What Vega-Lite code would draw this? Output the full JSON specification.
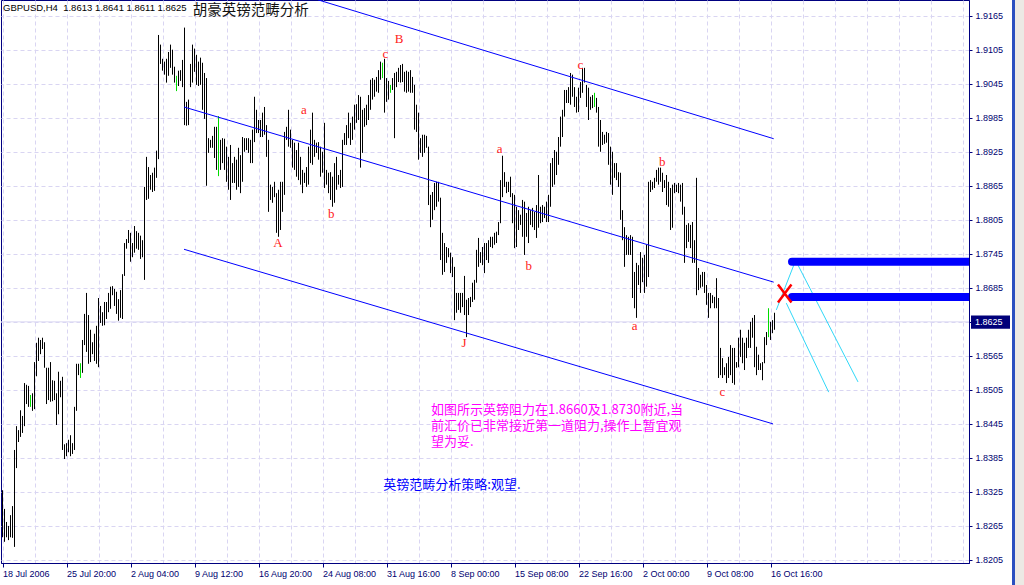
{
  "$schema": "https://vega.github.io/schema/vega-lite/v6.json",
  "width": 968,
  "height": 563,
  "autosize": {"type": "none"},
  "padding": {"left": 1, "top": 0, "right": 55, "bottom": 22},
  "background": "#ffffff",
  "config": {
    "view": {"stroke": "#000080", "strokeWidth": 1},
    "axis": {
      "labelFont": "Liberation Sans",
      "labelFontSize": 9,
      "labelColor": "#000070",
      "domainColor": "#000080",
      "tickColor": "#000080",
      "gridColor": "#d9d5f2",
      "gridDash": [4, 3],
      "gridWidth": 1,
      "title": null
    }
  },
  "datasets": {
    "bars": [
      {"i":0,"p":1.8245,"p2":1.8328},{"i":1,"p":1.8237,"p2":1.8295},{"i":2,"p":1.8245,"p2":1.8272},{"i":3,"p":1.8240,"p2":1.8265},{"i":4,"p":1.8245,"p2":1.8284},
      {"i":5,"p":1.8244,"p2":1.8300},{"i":6,"p":1.8228,"p2":1.8399},{"i":7,"p":1.8367,"p2":1.8441},{"i":8,"p":1.8413,"p2":1.8434},{"i":9,"p":1.8422,"p2":1.8469},
      {"i":10,"p":1.8429,"p2":1.8459},{"i":11,"p":1.8441,"p2":1.8517},{"i":12,"p":1.8480,"p2":1.8514},{"i":13,"p":1.8475,"p2":1.8512},{"i":14,"p":1.8475,"p2":1.8496,"g":1},
      {"i":15,"p":1.8468,"p2":1.8499},{"i":16,"p":1.8471,"p2":1.8554},{"i":17,"p":1.8529,"p2":1.8588},{"i":18,"p":1.8556,"p2":1.8597},{"i":19,"p":1.8568,"p2":1.8593},
      {"i":20,"p":1.8577,"p2":1.8597},{"i":21,"p":1.8544,"p2":1.8589},{"i":22,"p":1.8480,"p2":1.8544},{"i":23,"p":1.8487,"p2":1.8544},{"i":24,"p":1.8484,"p2":1.8554},
      {"i":25,"p":1.8485,"p2":1.8522},{"i":26,"p":1.8487,"p2":1.8521},{"i":27,"p":1.8443,"p2":1.8499},{"i":28,"p":1.8462,"p2":1.8537},{"i":29,"p":1.8492,"p2":1.8521},
      {"i":30,"p":1.8399,"p2":1.8528},{"i":31,"p":1.8383,"p2":1.8409},{"i":32,"p":1.8388,"p2":1.8411},{"i":33,"p":1.8395,"p2":1.8417},{"i":34,"p":1.8388,"p2":1.8425},
      {"i":35,"p":1.8392,"p2":1.8411},{"i":36,"p":1.8399,"p2":1.8475},{"i":37,"p":1.8468,"p2":1.8551},{"i":38,"p":1.8531,"p2":1.8551},{"i":39,"p":1.8526,"p2":1.8552,"g":1},
      {"i":40,"p":1.8535,"p2":1.8593},{"i":41,"p":1.8584,"p2":1.8639},{"i":42,"p":1.8572,"p2":1.8676},{"i":43,"p":1.8551,"p2":1.8637},{"i":44,"p":1.8554,"p2":1.8611},
      {"i":45,"p":1.8568,"p2":1.8589},{"i":46,"p":1.8556,"p2":1.8604},{"i":47,"p":1.8551,"p2":1.8618},{"i":48,"p":1.8545,"p2":1.8667},{"i":49,"p":1.8623,"p2":1.8653},
      {"i":50,"p":1.8618,"p2":1.8642},{"i":51,"p":1.8619,"p2":1.8660},{"i":52,"p":1.8630,"p2":1.8660},{"i":53,"p":1.8642,"p2":1.8676},{"i":54,"p":1.8648,"p2":1.8687},
      {"i":55,"p":1.8672,"p2":1.8688},{"i":56,"p":1.8653,"p2":1.8683},{"i":57,"p":1.8639,"p2":1.8678},{"i":58,"p":1.8627,"p2":1.8665},{"i":59,"p":1.8632,"p2":1.8681},
      {"i":60,"p":1.8630,"p2":1.8709},{"i":61,"p":1.8706,"p2":1.8764},{"i":62,"p":1.8754,"p2":1.8771},{"i":63,"p":1.8764,"p2":1.8787},{"i":64,"p":1.8731,"p2":1.8782},
      {"i":65,"p":1.8739,"p2":1.8764},{"i":66,"p":1.8747,"p2":1.8794},{"i":67,"p":1.8754,"p2":1.8785},{"i":68,"p":1.8752,"p2":1.8782},{"i":69,"p":1.8736,"p2":1.8777},
      {"i":70,"p":1.8739,"p2":1.8769},{"i":71,"p":1.8699,"p2":1.8863},{"i":72,"p":1.8840,"p2":1.8916},{"i":73,"p":1.8842,"p2":1.8898},{"i":74,"p":1.8858,"p2":1.8884},
      {"i":75,"p":1.8854,"p2":1.8888},{"i":76,"p":1.8856,"p2":1.8897},{"i":77,"p":1.8879,"p2":1.8927},{"i":78,"p":1.8912,"p2":1.9131},{"i":79,"p":1.9080,"p2":1.9114},
      {"i":80,"p":1.9068,"p2":1.9089},{"i":81,"p":1.9061,"p2":1.9084},{"i":82,"p":1.9047,"p2":1.9089},{"i":83,"p":1.9059,"p2":1.9101},{"i":84,"p":1.9073,"p2":1.9114},
      {"i":85,"p":1.9061,"p2":1.9105},{"i":86,"p":1.9047,"p2":1.9075},{"i":87,"p":1.9032,"p2":1.9059,"g":1},{"i":88,"p":1.9041,"p2":1.9068},{"i":89,"p":1.9050,"p2":1.9069},
      {"i":90,"p":1.9039,"p2":1.9087},{"i":91,"p":1.8972,"p2":1.9144},{"i":92,"p":1.8971,"p2":1.9013},{"i":93,"p":1.8972,"p2":1.9017},{"i":94,"p":1.9039,"p2":1.9080},
      {"i":95,"p":1.9047,"p2":1.9114},{"i":96,"p":1.9066,"p2":1.9107},{"i":97,"p":1.9043,"p2":1.9096},{"i":98,"p":1.9041,"p2":1.9084},{"i":99,"p":1.9043,"p2":1.9091},
      {"i":100,"p":1.8999,"p2":1.9082},{"i":101,"p":1.8983,"p2":1.9064},{"i":102,"p":1.8865,"p2":1.9055},{"i":103,"p":1.8923,"p2":1.8949},{"i":104,"p":1.8932,"p2":1.8946},
      {"i":105,"p":1.8932,"p2":1.8953},{"i":106,"p":1.8914,"p2":1.8969},{"i":107,"p":1.8893,"p2":1.8969},{"i":108,"p":1.8882,"p2":1.8988,"g":1},{"i":109,"p":1.8893,"p2":1.8946},
      {"i":110,"p":1.8905,"p2":1.8949},{"i":111,"p":1.8893,"p2":1.8948},{"i":112,"p":1.8872,"p2":1.8934},{"i":113,"p":1.8858,"p2":1.8916},{"i":114,"p":1.8840,"p2":1.8937},
      {"i":115,"p":1.8870,"p2":1.8905},{"i":116,"p":1.8870,"p2":1.8916},{"i":117,"p":1.8858,"p2":1.8911},{"i":118,"p":1.8863,"p2":1.8932},{"i":119,"p":1.8852,"p2":1.8919},
      {"i":120,"p":1.8872,"p2":1.8951},{"i":121,"p":1.8925,"p2":1.8949},{"i":122,"p":1.8928,"p2":1.8949},{"i":123,"p":1.8923,"p2":1.8949},{"i":124,"p":1.8905,"p2":1.8946},
      {"i":125,"p":1.8905,"p2":1.8964},{"i":126,"p":1.8942,"p2":1.9022},{"i":127,"p":1.8958,"p2":1.8999},{"i":128,"p":1.8958,"p2":1.8981},{"i":129,"p":1.8951,"p2":1.8981},
      {"i":130,"p":1.8951,"p2":1.8994},{"i":131,"p":1.8955,"p2":1.9004},{"i":132,"p":1.8916,"p2":1.8972},{"i":133,"p":1.8819,"p2":1.8946},{"i":134,"p":1.8840,"p2":1.8867},
      {"i":135,"p":1.8835,"p2":1.8863},{"i":136,"p":1.8845,"p2":1.8872},{"i":137,"p":1.8782,"p2":1.8852},{"i":138,"p":1.8775,"p2":1.8858},{"i":139,"p":1.8787,"p2":1.8872},
      {"i":140,"p":1.8819,"p2":1.8872},{"i":141,"p":1.8849,"p2":1.8960},{"i":142,"p":1.8946,"p2":1.8969},{"i":143,"p":1.8934,"p2":1.8999},{"i":144,"p":1.8932,"p2":1.8964},
      {"i":145,"p":1.8897,"p2":1.8946},{"i":146,"p":1.8893,"p2":1.8941},{"i":147,"p":1.8881,"p2":1.8928},{"i":148,"p":1.8875,"p2":1.8941},{"i":149,"p":1.8867,"p2":1.8916},
      {"i":150,"p":1.8852,"p2":1.8893},{"i":151,"p":1.8870,"p2":1.8888},{"i":152,"p":1.8863,"p2":1.8898},{"i":153,"p":1.8867,"p2":1.8934},{"i":154,"p":1.8905,"p2":1.8964},
      {"i":155,"p":1.8902,"p2":1.8994},{"i":156,"p":1.8916,"p2":1.8946},{"i":157,"p":1.8923,"p2":1.8941},{"i":158,"p":1.8911,"p2":1.8942},{"i":159,"p":1.8881,"p2":1.8934},
      {"i":160,"p":1.8888,"p2":1.8925},{"i":161,"p":1.8861,"p2":1.8976},{"i":162,"p":1.8867,"p2":1.8893},{"i":163,"p":1.8852,"p2":1.8888},{"i":164,"p":1.8840,"p2":1.8889},
      {"i":165,"p":1.8828,"p2":1.8881},{"i":166,"p":1.8835,"p2":1.8905},{"i":167,"p":1.8858,"p2":1.8916},{"i":168,"p":1.8867,"p2":1.8884},{"i":169,"p":1.8861,"p2":1.8893},
      {"i":170,"p":1.8863,"p2":1.8946},{"i":171,"p":1.8937,"p2":1.8958},{"i":172,"p":1.8937,"p2":1.8972},{"i":173,"p":1.8949,"p2":1.8994},{"i":174,"p":1.8937,"p2":1.8976},
      {"i":175,"p":1.8946,"p2":1.8987},{"i":176,"p":1.8964,"p2":1.9008},{"i":177,"p":1.8976,"p2":1.9009},{"i":178,"p":1.8981,"p2":1.9025},{"i":179,"p":1.8897,"p2":1.9022},
      {"i":180,"p":1.8923,"p2":1.8999},{"i":181,"p":1.8969,"p2":1.9002},{"i":182,"p":1.8972,"p2":1.9008},{"i":183,"p":1.8981,"p2":1.9025},{"i":184,"p":1.8999,"p2":1.9052},
      {"i":185,"p":1.9017,"p2":1.9055},{"i":186,"p":1.9022,"p2":1.9052},{"i":187,"p":1.9031,"p2":1.9057},{"i":188,"p":1.9029,"p2":1.9069},{"i":189,"p":1.9052,"p2":1.9084},
      {"i":190,"p":1.9055,"p2":1.9082,"g":1},{"i":191,"p":1.8994,"p2":1.9089},{"i":192,"p":1.9013,"p2":1.9055},{"i":193,"p":1.9017,"p2":1.9050},{"i":194,"p":1.9029,"p2":1.9043,"g":1},
      {"i":195,"p":1.9034,"p2":1.9055},{"i":196,"p":1.8949,"p2":1.9064},{"i":197,"p":1.9039,"p2":1.9066},{"i":198,"p":1.9048,"p2":1.9073},{"i":199,"p":1.9047,"p2":1.9078},
      {"i":200,"p":1.9048,"p2":1.9080},{"i":201,"p":1.9031,"p2":1.9066},{"i":202,"p":1.9029,"p2":1.9068},{"i":203,"p":1.9031,"p2":1.9066},{"i":204,"p":1.9029,"p2":1.9069},
      {"i":205,"p":1.9029,"p2":1.9057},{"i":206,"p":1.8964,"p2":1.9043},{"i":207,"p":1.8960,"p2":1.9008},{"i":208,"p":1.8911,"p2":1.8994},{"i":209,"p":1.8923,"p2":1.8949},
      {"i":210,"p":1.8916,"p2":1.8955},{"i":211,"p":1.8923,"p2":1.8955},{"i":212,"p":1.8932,"p2":1.8953},{"i":213,"p":1.8831,"p2":1.8934},{"i":214,"p":1.8792,"p2":1.8849},
      {"i":215,"p":1.8805,"p2":1.8854},{"i":216,"p":1.8822,"p2":1.8870},{"i":217,"p":1.8828,"p2":1.8872},{"i":218,"p":1.8837,"p2":1.8872},{"i":219,"p":1.8734,"p2":1.8844},
      {"i":220,"p":1.8708,"p2":1.8782},{"i":221,"p":1.8713,"p2":1.8764},{"i":222,"p":1.8729,"p2":1.8757},{"i":223,"p":1.8739,"p2":1.8755},{"i":224,"p":1.8711,"p2":1.8747},
      {"i":225,"p":1.8704,"p2":1.8739},{"i":226,"p":1.8628,"p2":1.8722},{"i":227,"p":1.8641,"p2":1.8676},{"i":228,"p":1.8646,"p2":1.8676},{"i":229,"p":1.8641,"p2":1.8676},
      {"i":230,"p":1.8651,"p2":1.8676},{"i":231,"p":1.8637,"p2":1.8706},{"i":232,"p":1.8598,"p2":1.8664},{"i":233,"p":1.8637,"p2":1.8667},{"i":234,"p":1.8651,"p2":1.8669},
      {"i":235,"p":1.8660,"p2":1.8694},{"i":236,"p":1.8664,"p2":1.8699},{"i":237,"p":1.8694,"p2":1.8752},{"i":238,"p":1.8722,"p2":1.8773},{"i":239,"p":1.8729,"p2":1.8748},
      {"i":240,"p":1.8725,"p2":1.8757},{"i":241,"p":1.8711,"p2":1.8764},{"i":242,"p":1.8734,"p2":1.8764},{"i":243,"p":1.8729,"p2":1.8769},{"i":244,"p":1.8757,"p2":1.8775},
      {"i":245,"p":1.8755,"p2":1.8775},{"i":246,"p":1.8761,"p2":1.8782},{"i":247,"p":1.8764,"p2":1.8784},{"i":248,"p":1.8778,"p2":1.8801},{"i":249,"p":1.8799,"p2":1.8875},
      {"i":250,"p":1.8845,"p2":1.8918},{"i":251,"p":1.8863,"p2":1.8889},{"i":252,"p":1.8852,"p2":1.8872},{"i":253,"p":1.8854,"p2":1.8872},{"i":254,"p":1.8845,"p2":1.8881},
      {"i":255,"p":1.8799,"p2":1.8852},{"i":256,"p":1.8755,"p2":1.8849},{"i":257,"p":1.8757,"p2":1.8828},{"i":258,"p":1.8787,"p2":1.8822},{"i":259,"p":1.8796,"p2":1.8814},
      {"i":260,"p":1.8775,"p2":1.8840},{"i":261,"p":1.8743,"p2":1.8837},{"i":262,"p":1.8775,"p2":1.8817},{"i":263,"p":1.8764,"p2":1.8828},{"i":264,"p":1.8796,"p2":1.8822},
      {"i":265,"p":1.8792,"p2":1.8826},{"i":266,"p":1.8787,"p2":1.8819},{"i":267,"p":1.8773,"p2":1.8831},{"i":268,"p":1.8791,"p2":1.8884},{"i":269,"p":1.8799,"p2":1.8828},
      {"i":270,"p":1.8801,"p2":1.8831},{"i":271,"p":1.8808,"p2":1.8828},{"i":272,"p":1.8801,"p2":1.8837},{"i":273,"p":1.8801,"p2":1.8849},{"i":274,"p":1.8828,"p2":1.8905},
      {"i":275,"p":1.8863,"p2":1.8914},{"i":276,"p":1.8867,"p2":1.8928},{"i":277,"p":1.8884,"p2":1.8925},{"i":278,"p":1.8902,"p2":1.8951},{"i":279,"p":1.8934,"p2":1.8987},
      {"i":280,"p":1.8951,"p2":1.8999},{"i":281,"p":1.8987,"p2":1.9034},{"i":282,"p":1.9011,"p2":1.9034},{"i":283,"p":1.9011,"p2":1.9039},{"i":284,"p":1.9008,"p2":1.9064},
      {"i":285,"p":1.9022,"p2":1.9061},{"i":286,"p":1.9004,"p2":1.9039},{"i":287,"p":1.8994,"p2":1.9022},{"i":288,"p":1.8995,"p2":1.9038},{"i":289,"p":1.9020,"p2":1.9048},
      {"i":290,"p":1.9029,"p2":1.9073},{"i":291,"p":1.9047,"p2":1.9073},{"i":292,"p":1.9004,"p2":1.9043},{"i":293,"p":1.8981,"p2":1.9038},{"i":294,"p":1.8999,"p2":1.9022},
      {"i":295,"p":1.9002,"p2":1.9025},{"i":296,"p":1.9004,"p2":1.9029,"g":1},{"i":297,"p":1.8994,"p2":1.9020},{"i":298,"p":1.8934,"p2":1.9004},{"i":299,"p":1.8925,"p2":1.8981},
      {"i":300,"p":1.8937,"p2":1.8960},{"i":301,"p":1.8939,"p2":1.8955},{"i":302,"p":1.8941,"p2":1.8960},{"i":303,"p":1.8902,"p2":1.8958},{"i":304,"p":1.8867,"p2":1.8934},
      {"i":305,"p":1.8849,"p2":1.8925},{"i":306,"p":1.8879,"p2":1.8905},{"i":307,"p":1.8875,"p2":1.8905},{"i":308,"p":1.8863,"p2":1.8889},{"i":309,"p":1.8805,"p2":1.8888},
      {"i":310,"p":1.8769,"p2":1.8822},{"i":311,"p":1.8722,"p2":1.8792},{"i":312,"p":1.8743,"p2":1.8778},{"i":313,"p":1.8743,"p2":1.8775},{"i":314,"p":1.8743,"p2":1.8778},
      {"i":315,"p":1.8667,"p2":1.8775},{"i":316,"p":1.8649,"p2":1.8713},{"i":317,"p":1.8632,"p2":1.8729},{"i":318,"p":1.8690,"p2":1.8725},{"i":319,"p":1.8676,"p2":1.8748},
      {"i":320,"p":1.8695,"p2":1.8738},{"i":321,"p":1.8676,"p2":1.8743},{"i":322,"p":1.8687,"p2":1.8761},{"i":323,"p":1.8704,"p2":1.8872},{"i":324,"p":1.8854,"p2":1.8875},
      {"i":325,"p":1.8858,"p2":1.8872},{"i":326,"p":1.8861,"p2":1.8879},{"i":327,"p":1.8872,"p2":1.8893},{"i":328,"p":1.8867,"p2":1.8897},{"i":329,"p":1.8872,"p2":1.8897},
      {"i":330,"p":1.8854,"p2":1.8888},{"i":331,"p":1.8861,"p2":1.8875},{"i":332,"p":1.8831,"p2":1.8884},{"i":333,"p":1.8828,"p2":1.8872},{"i":334,"p":1.8787,"p2":1.8861},
      {"i":335,"p":1.8791,"p2":1.8867},{"i":336,"p":1.8852,"p2":1.8870},{"i":337,"p":1.8854,"p2":1.8867},{"i":338,"p":1.8852,"p2":1.8870},{"i":339,"p":1.8837,"p2":1.8867},
      {"i":340,"p":1.8814,"p2":1.8870},{"i":341,"p":1.8729,"p2":1.8828},{"i":342,"p":1.8755,"p2":1.8796},{"i":343,"p":1.8766,"p2":1.8799},{"i":344,"p":1.8755,"p2":1.8796},
      {"i":345,"p":1.8729,"p2":1.8801},{"i":346,"p":1.8729,"p2":1.8769},{"i":347,"p":1.8672,"p2":1.8879},{"i":348,"p":1.8681,"p2":1.8720},{"i":349,"p":1.8685,"p2":1.8708},
      {"i":350,"p":1.8687,"p2":1.8713},{"i":351,"p":1.8676,"p2":1.8713},{"i":352,"p":1.8655,"p2":1.8690},{"i":353,"p":1.8632,"p2":1.8676},{"i":354,"p":1.8649,"p2":1.8676},
      {"i":355,"p":1.8658,"p2":1.8672},{"i":356,"p":1.8649,"p2":1.8669},{"i":357,"p":1.8649,"p2":1.8702},{"i":358,"p":1.8526,"p2":1.8667},{"i":359,"p":1.8531,"p2":1.8579},
      {"i":360,"p":1.8526,"p2":1.8561},{"i":361,"p":1.8531,"p2":1.8545},{"i":362,"p":1.8517,"p2":1.8552},{"i":363,"p":1.8526,"p2":1.8563},{"i":364,"p":1.8531,"p2":1.8584},
      {"i":365,"p":1.8517,"p2":1.8579},{"i":366,"p":1.8514,"p2":1.8579},{"i":367,"p":1.8544,"p2":1.8554},{"i":368,"p":1.8545,"p2":1.8597},{"i":369,"p":1.8563,"p2":1.8611},
      {"i":370,"p":1.8552,"p2":1.8597},{"i":371,"p":1.8540,"p2":1.8588},{"i":372,"p":1.8561,"p2":1.8597},{"i":373,"p":1.8579,"p2":1.8611},{"i":374,"p":1.8579,"p2":1.8625},
      {"i":375,"p":1.8597,"p2":1.8632},{"i":376,"p":1.8545,"p2":1.8637},{"i":377,"p":1.8531,"p2":1.8581},{"i":378,"p":1.8540,"p2":1.8567},{"i":379,"p":1.8540,"p2":1.8552},
      {"i":380,"p":1.8522,"p2":1.8554},{"i":381,"p":1.8552,"p2":1.8598},{"i":382,"p":1.8584,"p2":1.8607},{"i":383,"p":1.8598,"p2":1.8649,"g":1},{"i":384,"p":1.8593,"p2":1.8625},
      {"i":385,"p":1.8605,"p2":1.8628},{"i":386,"p":1.8611,"p2":1.8641}
    ],
    "bid": [{"i": -0.75, "i2": 483.25, "p": 1.8625}],
    "channel": [
      {"line": "upper", "i": 157.75, "p": 1.9193},
      {"line": "upper", "i": 385.6, "p": 1.8948},
      {"line": "middle", "i": 90.75, "p": 1.9004},
      {"line": "middle", "i": 385.6, "p": 1.8695},
      {"line": "lower", "i": 90.75, "p": 1.8753},
      {"line": "lower", "i": 385.25, "p": 1.8445}
    ],
    "projection": [
      {"line": "rise", "i": 386.9, "p": 1.8646},
      {"line": "rise", "i": 395.75, "p": 1.8726},
      {"line": "fall1", "i": 397.75, "p": 1.8725},
      {"line": "fall1", "i": 427.75, "p": 1.8519},
      {"line": "fall2", "i": 391.9, "p": 1.8658},
      {"line": "fall2", "i": 413.1, "p": 1.8501}
    ],
    "levels": [
      {"i": 394.75, "i2": 486, "p": 1.8731},
      {"i": 394.75, "i2": 486, "p": 1.8669}
    ],
    "cross": [{"i": 391.1, "p": 1.8675}],
    "waves": [
      {"t": "A", "i": 137.75, "p": 1.8764},
      {"t": "a", "i": 150.75, "p": 1.8999},
      {"t": "b", "i": 164.4, "p": 1.8816},
      {"t": "c", "i": 191.4, "p": 1.9097},
      {"t": "B", "i": 198.25, "p": 1.9124},
      {"t": "J", "i": 230.75, "p": 1.8587},
      {"t": "a", "i": 248.6, "p": 1.8930},
      {"t": "b", "i": 263.1, "p": 1.8723},
      {"t": "c", "i": 288.9, "p": 1.9078},
      {"t": "a", "i": 316.1, "p": 1.8618},
      {"t": "b", "i": 329.9, "p": 1.8907},
      {"t": "c", "i": 359.9, "p": 1.8502}
    ],
    "note": [
      {"t": "如图所示英镑阻力在1.8660及1.8730附近,当\n前汇价已非常接近第一道阻力,操作上暂宜观\n望为妥.", "i": 214.25, "p": 1.8480}
    ],
    "strategy": [{"t": "英镑范畴分析策略:观望.", "i": 190.4, "p": 1.8337}],
    "quote": [{"t": "GBPUSD,H4\u00a0 1.8613 1.8641 1.8611 1.8625", "i": 0.25, "p": 1.9179}],
    "heading": [{"t": "胡豪英镑范畴分析", "i": 95.1, "p": 1.9173}],
    "lastBox": [{"i": 484.25, "i2": 503.75, "p": 1.8613, "p2": 1.8636}],
    "lastPrice": [{"t": "1.8625", "i": 486.25, "p": 1.8625}],
    "frameEdge": [{"i": 504.75, "i2": 506.25, "p": 1.8150, "p2": 1.9200}],
    "frameSide": [{"i": 506.25, "i2": 512, "p": 1.8150, "p2": 1.9200}]
  },
  "encoding": {
    "x": {
      "field": "i",
      "type": "quantitative",
      "scale": {"domain": [-0.75, 483.25], "nice": false, "zero": false},
      "axis": {
        "orient": "bottom",
        "values": [0,16,32,48,64,80,96,112,128,144,160,176,192,208,224,240,256,272,288,304,320,336,352,368,384,400,416,432,448,464,480],
        "labelExpr": "(datum.value % 32 == 0 && datum.value <= 384) ? ['18 Jul 2006','25 Jul 20:00','2 Aug 04:00','9 Aug 12:00','16 Aug 20:00','24 Aug 08:00','31 Aug 16:00','8 Sep 00:00','15 Sep 08:00','22 Sep 16:00','2 Oct 00:00','9 Oct 08:00','16 Oct 16:00'][datum.value / 32] : ''",
        "labelAlign": "left",
        "labelBaseline": "top",
        "labelPadding": 2,
        "labelOverlap": false,
        "labelBound": false,
        "labelFlush": false,
        "tickSize": 4,
        "tickOpacity": {"condition": {"test": "datum.value % 32 != 0 || datum.value > 384", "value": 0}, "value": 1},
        "grid": true,
        "title": null
      }
    },
    "y": {
      "field": "p",
      "type": "quantitative",
      "scale": {"domain": [1.81996, 1.91927], "nice": false, "zero": false},
      "axis": {
        "orient": "right",
        "values": [1.8205,1.8265,1.8325,1.8385,1.8445,1.8505,1.8565,1.8625,1.8685,1.8745,1.8805,1.8865,1.8925,1.8985,1.9045,1.9105,1.9165],
        "format": ".4f",
        "labelPadding": 3,
        "labelOverlap": false,
        "labelBound": false,
        "labelFlush": false,
        "tickSize": 3,
        "grid": true,
        "title": null
      }
    }
  },
  "layer": [
    {
      "data": {"name": "bid"},
      "mark": {"type": "rule", "color": "#dcd9f3", "strokeWidth": 1},
      "encoding": {"x2": {"field": "i2"}}
    },
    {
      "data": {"name": "bars"},
      "mark": {"type": "rule", "strokeWidth": 1},
      "encoding": {
        "y2": {"field": "p2"},
        "color": {"condition": {"test": "datum.g == 1", "value": "#00dd00"}, "value": "#000000"}
      }
    },
    {
      "data": {"name": "channel"},
      "mark": {"type": "line", "color": "#0000ff", "strokeWidth": 1, "clip": true},
      "encoding": {"detail": {"field": "line"}}
    },
    {
      "data": {"name": "projection"},
      "mark": {"type": "line", "color": "#30d8f8", "strokeWidth": 1},
      "encoding": {"detail": {"field": "line"}}
    },
    {
      "data": {"name": "levels"},
      "mark": {"type": "rule", "color": "#0000ff", "strokeWidth": 8, "strokeCap": "round", "clip": true},
      "encoding": {"x2": {"field": "i2"}}
    },
    {
      "data": {"name": "cross"},
      "mark": {"type": "point", "shape": "M-0.75,-1L0.75,1M-0.75,1L0.75,-1", "size": 324, "filled": false, "stroke": "#ff0000", "strokeWidth": 2.5, "opacity": 1},
      "encoding": {}
    },
    {
      "data": {"name": "waves"},
      "mark": {"type": "text", "font": "Liberation Serif", "fontSize": 13, "color": "#ff2020", "align": "center", "baseline": "middle"},
      "encoding": {"text": {"field": "t"}}
    },
    {
      "data": {"name": "note"},
      "mark": {"type": "text", "font": "Noto Sans CJK SC", "fontSize": 13, "color": "#ff00ff", "align": "left", "baseline": "top", "lineBreak": "\n", "lineHeight": 16},
      "encoding": {"text": {"field": "t"}}
    },
    {
      "data": {"name": "strategy"},
      "mark": {"type": "text", "font": "Noto Sans CJK SC", "fontSize": 13, "color": "#0000ff", "align": "left", "baseline": "middle"},
      "encoding": {"text": {"field": "t"}}
    },
    {
      "data": {"name": "quote"},
      "mark": {"type": "text", "font": "Liberation Sans", "fontSize": 9.5, "color": "#000000", "align": "left", "baseline": "middle"},
      "encoding": {"text": {"field": "t"}}
    },
    {
      "data": {"name": "heading"},
      "mark": {"type": "text", "font": "Noto Sans CJK SC", "fontSize": 14.5, "color": "#111111", "align": "left", "baseline": "middle"},
      "encoding": {"text": {"field": "t"}}
    },
    {
      "data": {"name": "lastBox"},
      "mark": {"type": "rect", "color": "#00007a", "clip": false},
      "encoding": {"x2": {"field": "i2"}, "y2": {"field": "p2"}}
    },
    {
      "data": {"name": "lastPrice"},
      "mark": {"type": "text", "font": "Liberation Sans", "fontSize": 9, "color": "#ffffff", "align": "left", "baseline": "middle", "clip": false},
      "encoding": {"text": {"field": "t"}}
    },
    {
      "data": {"name": "frameEdge"},
      "mark": {"type": "rect", "color": "#2a4fc0", "clip": false},
      "encoding": {"x2": {"field": "i2"}, "y2": {"field": "p2"}}
    },
    {
      "data": {"name": "frameSide"},
      "mark": {"type": "rect", "color": "#ece9e4", "clip": false},
      "encoding": {"x2": {"field": "i2"}, "y2": {"field": "p2"}}
    }
  ]
}
